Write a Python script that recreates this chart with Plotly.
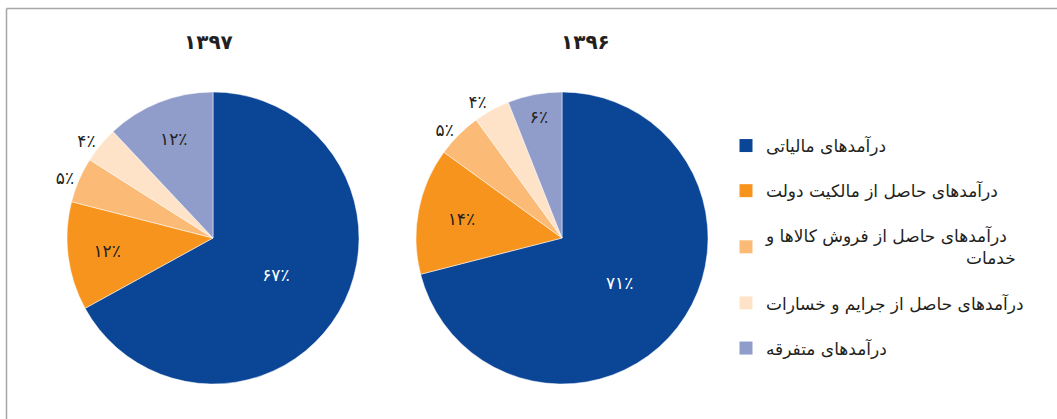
import plotly.graph_objects as go

# categories (legend order) and shares per year
labels = [
    "درآمدهای مالیاتی",
    "درآمدهای حاصل از مالکیت دولت",
    "درآمدهای حاصل از فروش کالاها و<br>" + "\u00a0" * 37 + "خدمات",
    "درآمدهای حاصل از جرایم و خسارات",
    "درآمدهای متفرقه",
]
values_1397 = [67, 12, 5, 4, 12]
values_1396 = [71, 14, 5, 4, 6]
year_left = "۱۳۹۷"
year_right = "۱۳۹۶"

colors = ["#0B4596", "#F7941E", "#FBBA76", "#FEE3C8", "#909DCA"]
text_colors = ["white", "#231F20", "#231F20", "#231F20", "#231F20"]
positions = ["inside", "inside", "outside", "outside", "inside"]
FONT = "DejaVu Sans"

fa_digits = str.maketrans("0123456789", "۰۱۲۳۴۵۶۷۸۹")


def fa_pct(vals):
    return [str(v).translate(fa_digits) + "٪" for v in vals]


W, H = 1057, 419


def px_x(p):
    return p / W


def px_y(p):
    return 1 - p / H


fig = go.Figure()

for vals, x0, x1 in [(values_1397, 67, 359), (values_1396, 416, 708)]:
    fig.add_trace(go.Pie(
        labels=labels, values=vals, sort=False, direction="clockwise",
        rotation=0, marker=dict(colors=colors, line=dict(color="white", width=0.5)),
        text=fa_pct(vals), texttemplate="%{text}", textposition=positions,
        textfont=dict(family=FONT, size=17, color=text_colors),
        insidetextorientation="horizontal", showlegend=False,
        hoverinfo="label+percent",
        domain=dict(x=[px_x(x0), px_x(x1)], y=[px_y(384), px_y(92)]),
    ))

# legend built from dummy markers so entries can be spaced out
for lab, col in zip(labels, colors):
    fig.add_trace(go.Scatter(
        x=[None], y=[None], mode="markers", name=lab, legendgroup=lab,
        marker=dict(symbol="square", size=13, color=col),
    ))

for txt, xp in [(year_left, 208), (year_right, 585)]:
    fig.add_annotation(text="<b>" + txt + "</b>", x=px_x(xp), y=px_y(42),
                       xref="paper", yref="paper", showarrow=False,
                       xanchor="center", yanchor="middle",
                       font=dict(family=FONT, size=20, color="#231F20"))

# frame lines on top and left only
fig.add_shape(type="line", xref="paper", yref="paper",
              x0=px_x(6.5), x1=1, y0=px_y(8.5), y1=px_y(8.5),
              line=dict(color="#A6A6A6", width=1.5))
fig.add_shape(type="line", xref="paper", yref="paper",
              x0=px_x(6.5), x1=px_x(6.5), y0=0, y1=px_y(8.5),
              line=dict(color="#A6A6A6", width=1.5))

fig.update_layout(
    width=W, height=H,
    margin=dict(l=0, r=0, t=0, b=0),
    paper_bgcolor="white", plot_bgcolor="white",
    xaxis=dict(visible=False), yaxis=dict(visible=False),
    legend=dict(x=px_x(726), y=px_y(128), xanchor="left", yanchor="top",
                font=dict(family=FONT, size=17, color="#231F20"),
                tracegroupgap=20, itemwidth=30, bgcolor="rgba(0,0,0,0)"),
    font=dict(family=FONT),
)

fig.write_html("out.html", config={"displayModeBar": False},
               post_script="document.body.style.margin='0';")
